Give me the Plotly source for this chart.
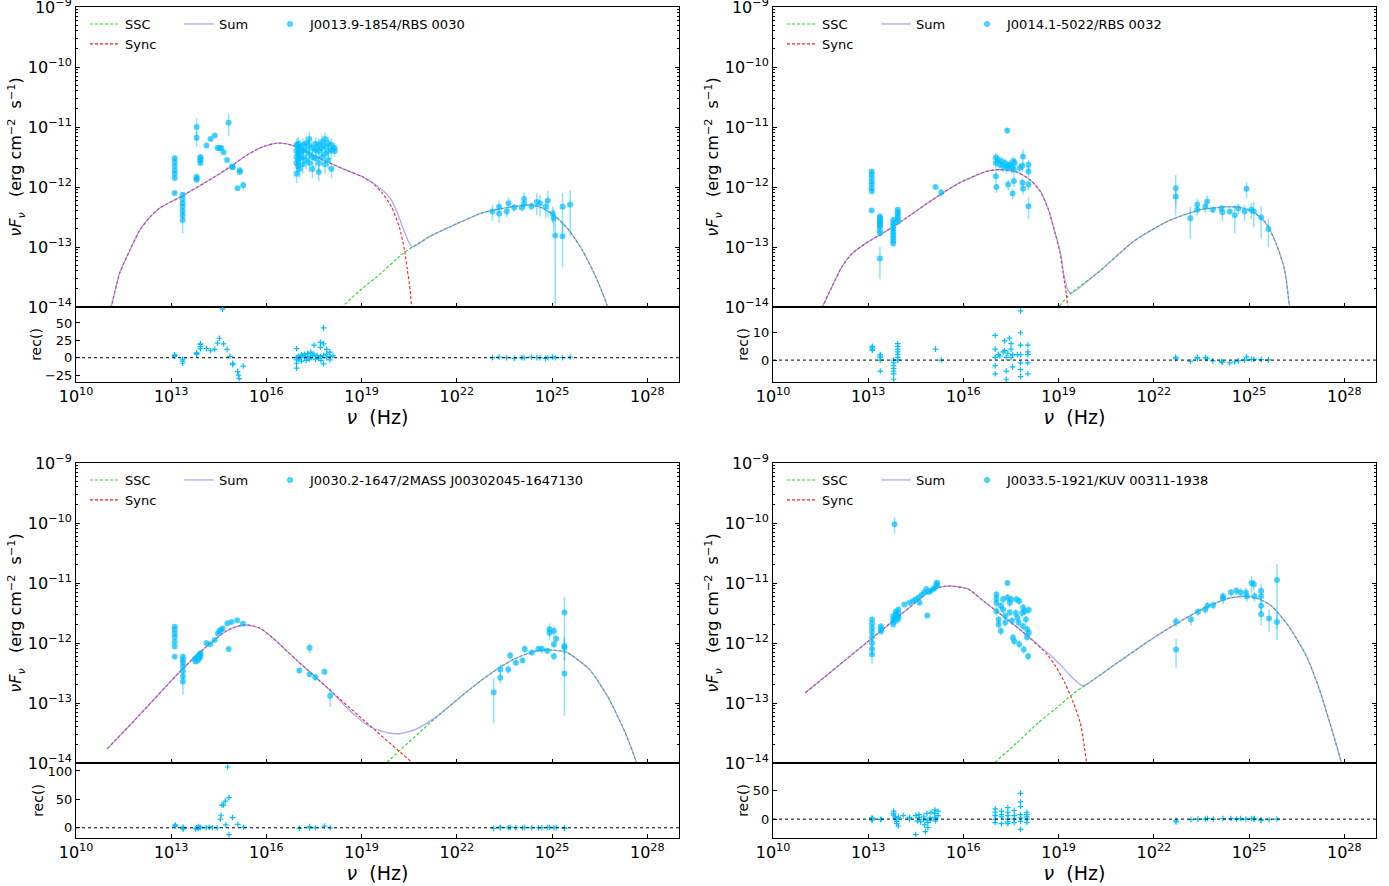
import plotly.graph_objects as go

W, H = 1389, 886
FONT = "DejaVu Sans"

# ------------------------------------------------------------------
# Panel 1 : J0013.9-1854/RBS 0030   (values are log10 nu [Hz], log10 nuFnu, rel. error)
# ------------------------------------------------------------------
p1_name = "J0013.9-1854/RBS 0030"
p1_sync = [[11.05, -14.1], [11.12, -13.97], [11.38, -13.43], [11.70, -13.05], [12.01, -12.72],
           [12.33, -12.50], [12.64, -12.35], [13.27, -12.17], [14.31, -11.85], [14.84, -11.67],
           [15.38, -11.47], [15.88, -11.33], [16.32, -11.27], [16.64, -11.28], [17.04, -11.35],
           [17.45, -11.47], [17.99, -11.60], [18.52, -11.72], [19.03, -11.83], [19.34, -11.93],
           [19.65, -12.10], [19.94, -12.33], [20.19, -12.67], [20.35, -13.05], [20.44, -13.38],
           [20.53, -13.72], [20.57, -13.98], [20.60, -14.2]]
p1_ssc = [[18.33, -14.1], [18.40, -14.0], [19.00, -13.70], [19.47, -13.50], [20.28, -13.12],
          [20.60, -13.0], [21.13, -12.83], [21.76, -12.67], [22.80, -12.43], [23.87, -12.32],
          [24.37, -12.30], [24.69, -12.35], [25.13, -12.50], [25.53, -12.72], [25.95, -13.05],
          [26.38, -13.50], [26.73, -13.97], [26.78, -14.1]]
p1_sum_valley = [[19.65, -12.05], [19.94, -12.22], [20.19, -12.52], [20.35, -12.75],
                 [20.50, -12.93], [20.60, -13.0]]
p1_radio = [[13.11, -11.52, 0.10], [13.11, -11.58, 0.15], [13.11, -11.65, 0.10], [13.11, -11.72, 0.10],
            [13.11, -11.78, 0.15], [13.11, -11.85, 0.10], [13.11, -12.10, 0.05],
            [13.36, -12.13, 0.10], [13.36, -12.20, 0.10], [13.36, -12.27, 0.10], [13.36, -12.33, 0.10],
            [13.36, -12.40, 0.10], [13.36, -12.47, 0.15], [13.36, -12.55, 0.40],
            [13.80, -11.00, 0.40], [13.80, -11.18, 0.30], [13.80, -11.83, 0.05], [13.80, -11.86, 0.05],
            [13.80, -11.88, 0.05], [13.92, -11.50, 0.05], [13.92, -11.53, 0.05], [13.92, -11.56, 0.05],
            [13.92, -11.60, 0.05], [14.11, -11.31, 0.05], [14.24, -11.20, 0.05], [14.37, -11.14, 0.05],
            [14.46, -11.35, 0.05], [14.52, -11.35, 0.05], [14.58, -11.35, 0.05], [14.65, -11.42, 0.05],
            [14.76, -11.55, 0.05], [14.81, -10.93, 0.40], [14.92, -11.66, 0.05], [14.94, -11.67, 0.05],
            [15.09, -12.02, 0.05], [15.16, -11.72, 0.05], [15.16, -11.75, 0.05], [15.27, -11.97, 0.15]]
p1_xray = [[16.95, -11.30, 0.3], [16.95, -11.40, 0.3], [16.95, -11.50, 0.3], [16.95, -11.60, 0.3],
           [16.95, -11.78, 0.3], [17.00, -11.28, 0.3], [17.00, -11.35, 0.3], [17.00, -11.45, 0.3],
           [17.00, -11.55, 0.3], [17.00, -11.65, 0.3], [17.05, -11.33, 0.3], [17.05, -11.42, 0.3],
           [17.05, -11.52, 0.3], [17.05, -11.70, 0.3], [17.15, -11.30, 0.3], [17.15, -11.40, 0.3],
           [17.15, -11.50, 0.3], [17.15, -11.62, 0.3], [17.25, -11.27, 0.3], [17.25, -11.38, 0.3],
           [17.25, -11.55, 0.3], [17.35, -11.20, 0.3], [17.35, -11.30, 0.3], [17.35, -11.45, 0.3],
           [17.35, -11.60, 0.3], [17.45, -11.35, 0.3], [17.45, -11.50, 0.3], [17.45, -11.70, 0.3],
           [17.55, -11.28, 0.3], [17.55, -11.38, 0.3], [17.55, -11.52, 0.3], [17.65, -11.30, 0.3],
           [17.65, -11.40, 0.3], [17.65, -11.60, 0.3], [17.65, -11.75, 0.3], [17.75, -11.25, 0.3],
           [17.75, -11.35, 0.3], [17.75, -11.50, 0.3], [17.85, -11.20, 0.3], [17.85, -11.32, 0.3],
           [17.85, -11.45, 0.3], [17.85, -11.62, 0.3], [17.95, -11.27, 0.3], [17.95, -11.40, 0.3],
           [17.95, -11.55, 0.3], [18.05, -11.30, 0.3], [18.05, -11.38, 0.3], [18.05, -11.70, 0.3],
           [18.15, -11.35, 0.2], [18.15, -11.40, 0.2]]
p1_gamma = [[23.12, -12.41, 0.30], [23.33, -12.33, 0.25], [23.33, -12.44, 0.30], [23.57, -12.41, 0.20],
            [23.63, -12.27, 0.25], [23.81, -12.34, 0.15], [24.05, -12.34, 0.15], [24.12, -12.20, 0.30],
            [24.12, -12.28, 0.20], [24.35, -12.32, 0.15], [24.52, -12.25, 0.40], [24.62, -12.27, 0.40],
            [24.80, -12.33, 0.35], [24.87, -12.23, 0.45], [25.02, -12.44, 0.30], [25.05, -12.52, 0.40],
            [25.10, -12.81, 1.30], [25.33, -12.33, 0.70], [25.33, -12.82, 0.70], [25.57, -12.29, 0.70]]
p1_resid = [[13.11, 3], [13.11, 2], [13.11, 4], [13.36, -2], [13.36, -5], [13.36, -8],
            [13.80, 5], [13.80, 7], [13.80, 6], [13.92, 13], [13.92, 16], [13.92, 19], [13.92, 20],
            [14.11, 13], [14.24, 10], [14.37, 12], [14.46, 21], [14.52, 28], [14.62, 70], [14.65, 20],
            [14.76, 12], [14.85, 2], [14.94, -10], [14.94, -8], [15.09, -20], [15.12, -25], [15.14, -30],
            [15.27, -12],
            [16.95, 13], [16.95, -3], [16.95, -8], [16.95, -15], [16.95, 0], [17.00, 2], [17.00, -2],
            [17.05, 0], [17.10, 4], [17.10, -5], [17.15, 3], [17.20, 5], [17.20, 1], [17.25, -4],
            [17.30, 6], [17.30, 2], [17.35, -2], [17.40, 8], [17.40, 0], [17.45, 3], [17.50, 18],
            [17.50, 5], [17.55, -2], [17.60, 3], [17.65, -1], [17.70, 22], [17.70, 15], [17.70, 2],
            [17.72, -4], [17.80, 43], [17.80, 20], [17.80, 3], [17.80, -9], [17.90, 12], [17.90, 5],
            [17.90, 0], [18.00, 8], [18.00, 2], [18.00, -3], [18.10, 3],
            [23.12, 0], [23.33, 1], [23.57, 0], [23.81, -1], [24.05, 0], [24.12, 0], [24.35, 1],
            [24.52, 0], [24.62, 0], [24.80, -1], [24.87, 0], [25.02, 1], [25.10, 0], [25.33, 0],
            [25.57, 1]]

# ------------------------------------------------------------------
# Panel 2 : J0014.1-5022/RBS 0032
# ------------------------------------------------------------------
p2_name = "J0014.1-5022/RBS 0032"
p2_sync = [[11.50, -14.1], [11.56, -14.0], [11.86, -13.66], [12.17, -13.33], [12.49, -13.11],
           [12.92, -12.94], [13.55, -12.74], [14.19, -12.52], [15.03, -12.21], [15.88, -11.93],
           [16.72, -11.74], [17.15, -11.71], [17.68, -11.75], [18.10, -11.88], [18.42, -12.07],
           [18.68, -12.38], [18.89, -12.77], [19.05, -13.11], [19.16, -13.50], [19.24, -13.78],
           [19.29, -14.0], [19.31, -14.1]]
p2_ssc = [[18.95, -14.05], [19.00, -14.0], [19.39, -13.77], [20.32, -13.39], [21.35, -12.91],
          [22.40, -12.58], [23.45, -12.38], [24.28, -12.33], [24.70, -12.34], [25.12, -12.41],
          [25.54, -12.61], [25.85, -12.94], [26.12, -13.38], [26.27, -13.98], [26.29, -14.1]]
p2_sum_valley = [[19.05, -13.08], [19.16, -13.45], [19.21, -13.57], [19.29, -13.72], [19.39, -13.77]]
p2_radio = [[13.11, -11.74, 0.05], [13.11, -11.79, 0.05], [13.11, -11.85, 0.05], [13.11, -11.91, 0.05],
            [13.11, -11.96, 0.05], [13.11, -12.02, 0.05], [13.11, -12.07, 0.05], [13.11, -12.39, 0.05],
            [13.37, -12.49, 0.10], [13.37, -12.52, 0.10], [13.37, -12.55, 0.10], [13.37, -12.58, 0.10],
            [13.37, -12.60, 0.10], [13.37, -12.63, 0.10], [13.37, -12.66, 0.10], [13.37, -12.72, 0.10],
            [13.37, -12.77, 0.10], [13.37, -13.19, 0.55],
            [13.79, -12.55, 0.10], [13.79, -12.60, 0.10], [13.79, -12.65, 0.10], [13.79, -12.70, 0.10],
            [13.79, -12.75, 0.10], [13.79, -12.80, 0.10], [13.79, -12.85, 0.10], [13.79, -12.90, 0.10],
            [13.79, -12.94, 0.10], [13.93, -12.38, 0.05], [13.93, -12.42, 0.05], [13.93, -12.46, 0.05],
            [13.93, -12.50, 0.05], [13.93, -12.54, 0.05], [13.93, -12.58, 0.05],
            [15.12, -12.00, 0.05], [15.30, -12.09, 0.15]]
p2_xray = [[17.02, -11.51, 0.2], [17.02, -11.60, 0.2], [17.02, -11.82, 0.2], [17.04, -12.00, 0.2],
           [17.08, -11.54, 0.2], [17.15, -11.63, 0.2], [17.20, -11.57, 0.2], [17.25, -11.65, 0.2],
           [17.31, -11.60, 0.2], [17.36, -11.68, 0.2], [17.38, -11.06, 0.1], [17.41, -11.65, 0.2],
           [17.41, -11.96, 0.2], [17.46, -11.63, 0.2], [17.52, -11.68, 0.2], [17.55, -12.11, 0.2],
           [17.57, -11.57, 0.2], [17.59, -11.71, 0.2], [17.62, -11.60, 0.2], [17.59, -11.90, 0.2],
           [17.78, -11.68, 0.2], [17.86, -11.65, 0.2], [17.86, -11.93, 0.2], [17.88, -12.03, 0.2],
           [17.88, -11.49, 0.3], [18.05, -11.63, 0.2], [18.05, -11.74, 0.2], [18.05, -11.96, 0.2],
           [18.05, -12.32, 0.4]]
p2_gamma = [[22.69, -12.02, 0.65], [22.69, -12.16, 0.30], [23.15, -12.52, 0.55], [23.37, -12.29, 0.25],
            [23.37, -12.38, 0.20], [23.62, -12.33, 0.20], [23.68, -12.24, 0.25], [23.86, -12.38, 0.10],
            [24.13, -12.36, 0.10], [24.16, -12.42, 0.30], [24.39, -12.41, 0.10], [24.55, -12.47, 0.50],
            [24.66, -12.36, 0.20], [24.86, -12.41, 0.30], [24.92, -12.03, 0.30], [25.07, -12.38, 0.30],
            [25.15, -12.41, 0.45], [25.38, -12.51, 0.55], [25.61, -12.70, 0.50]]
p2_resid = [[13.13, 3.5], [13.13, 4], [13.13, 4.5], [13.13, 5], [13.38, 0], [13.38, 1], [13.38, 1.5],
            [13.38, 2], [13.38, -4], [13.80, 0], [13.80, -1], [13.80, -2], [13.80, -3], [13.80, -4],
            [13.80, -5], [13.80, -7], [13.93, 0], [13.93, 1], [13.93, 2], [13.93, 3], [13.93, 4],
            [13.93, 5], [13.93, 6], [15.12, 4], [15.30, 0],
            [17.00, 9], [17.00, 4], [17.00, 1], [17.00, -2], [17.00, -5], [17.10, 2], [17.15, 1.5],
            [17.25, 3], [17.30, 7], [17.30, 3.5], [17.35, 1], [17.35, -4], [17.35, -7], [17.40, 2.5],
            [17.45, 8], [17.50, 6], [17.50, 4], [17.50, 1], [17.55, -2.5], [17.55, 2], [17.70, 2],
            [17.80, 18], [17.80, 10], [17.80, 5.5], [17.80, 2], [17.80, -1], [17.80, -3.5],
            [17.80, -6], [18.03, 5.5], [18.03, 3], [18.03, 2], [18.03, -1], [18.03, -5],
            [22.69, 1], [22.69, 0.5], [23.15, -0.5], [23.37, 0.5], [23.37, 1], [23.62, 0.8],
            [23.68, 0.5], [23.86, -0.3], [24.13, -0.5], [24.16, -0.8], [24.39, -1], [24.55, -0.7],
            [24.66, -0.3], [24.86, 0], [24.92, 1.2], [25.07, 0.3], [25.15, 0.3], [25.38, 0.2],
            [25.61, 0.1]]

# ------------------------------------------------------------------
# Panel 3 : J0030.2-1647/2MASS J00302045-1647130
# ------------------------------------------------------------------
p3_name = "J0030.2-1647/2MASS J00302045-1647130"
p3_sync = [[10.99, -13.76], [11.86, -13.28], [13.27, -12.48], [14.11, -12.06], [14.74, -11.80],
           [15.10, -11.72], [15.37, -11.70], [15.79, -11.75], [16.21, -11.92], [16.94, -12.28],
           [17.99, -12.78], [19.03, -13.27], [20.56, -13.98], [20.70, -14.05]]
p3_ssc = [[19.70, -14.05], [19.78, -14.0], [21.33, -13.25], [22.39, -12.78], [23.09, -12.50],
          [23.80, -12.27], [24.50, -12.13], [25.06, -12.12], [25.48, -12.16], [26.18, -12.44],
          [26.75, -12.89], [27.31, -13.50], [27.66, -14.0], [27.70, -14.1]]
p3_sum_valley = [[18.73, -13.18], [19.29, -13.40], [19.85, -13.50], [20.20, -13.51], [20.70, -13.44],
                 [21.33, -13.24]]
p3_radio = [[13.11, -11.73, 0.05], [13.11, -11.78, 0.05], [13.11, -11.84, 0.05], [13.11, -11.90, 0.05],
            [13.11, -11.98, 0.05], [13.11, -12.06, 0.05], [13.11, -12.23, 0.05],
            [13.37, -12.23, 0.10], [13.37, -12.28, 0.10], [13.37, -12.33, 0.10], [13.37, -12.39, 0.10],
            [13.37, -12.47, 0.10], [13.37, -12.56, 0.10], [13.37, -12.64, 0.40],
            [13.74, -12.27, 0.05], [13.77, -12.31, 0.05], [13.80, -12.24, 0.05], [13.83, -12.29, 0.05],
            [13.86, -12.21, 0.05], [13.88, -12.26, 0.05], [13.90, -12.19, 0.05], [13.92, -12.17, 0.05],
            [13.92, -12.23, 0.05], [14.11, -12.00, 0.05], [14.23, -12.02, 0.05], [14.37, -11.95, 0.05],
            [14.47, -11.84, 0.05], [14.52, -11.80, 0.05], [14.57, -11.78, 0.05], [14.62, -11.76, 0.05],
            [14.77, -11.67, 0.05], [14.90, -11.65, 0.05], [15.08, -11.62, 0.05], [15.26, -11.68, 0.05],
            [14.81, -12.10, 0.05]]
p3_xray = [[17.04, -12.46, 0.10], [17.36, -12.08, 0.20], [17.36, -12.52, 0.10], [17.54, -12.57, 0.15],
           [17.83, -12.48, 0.10], [18.01, -12.88, 0.35]]
p3_gamma = [[23.16, -12.82, 0.70], [23.37, -12.44, 0.20], [23.37, -12.58, 0.20], [23.62, -12.44, 0.15],
            [23.68, -12.21, 0.15], [23.86, -12.33, 0.10], [24.07, -12.29, 0.10], [24.14, -12.10, 0.15],
            [24.36, -12.16, 0.10], [24.57, -12.10, 0.10], [24.68, -12.10, 0.15], [24.85, -12.13, 0.10],
            [24.92, -11.77, 0.25], [24.92, -11.83, 0.25], [25.06, -11.80, 0.20], [25.06, -12.22, 0.15],
            [25.13, -11.93, 0.15], [25.06, -12.02, 0.15], [25.39, -11.49, 0.80], [25.39, -12.05, 0.40],
            [25.39, -12.08, 0.40], [25.39, -12.51, 0.80]]
p3_resid = [[13.13, 4], [13.13, 5], [13.13, 3], [13.38, 0], [13.38, -2], [13.38, 1], [13.38, -1],
            [13.77, -2], [13.80, 0], [13.85, 2], [13.85, -1], [13.90, 1], [13.93, 0], [14.10, 0],
            [14.20, 1], [14.30, 0], [14.45, 0], [14.55, 15], [14.57, 22], [14.60, 40], [14.65, 40],
            [14.70, 47], [14.72, 5], [14.78, 107], [14.82, 53], [14.82, -12], [14.93, 18], [15.10, 6],
            [15.28, 1],
            [17.04, -1], [17.36, 2], [17.36, 0], [17.54, 0], [17.83, 3], [18.01, 0],
            [23.16, -1], [23.37, 0], [23.37, 1], [23.62, 0], [23.68, 1], [23.86, 0], [24.07, 0],
            [24.14, 0.5], [24.36, 0], [24.57, 0], [24.68, 0], [24.85, 0.5], [24.92, 1], [25.06, 0],
            [25.13, 0.5], [25.39, 0], [25.39, -1]]

# ------------------------------------------------------------------
# Panel 4 : J0033.5-1921/KUV 00311-1938
# ------------------------------------------------------------------
p4_name = "J0033.5-1921/KUV 00311-1938"
p4_sync = [[11.02, -12.83], [14.48, -11.33], [14.90, -11.15], [15.25, -11.07], [15.59, -11.05],
           [16.14, -11.10], [16.70, -11.33], [17.39, -11.61], [18.08, -11.91], [18.64, -12.19],
           [18.91, -12.39], [19.19, -12.66], [19.47, -13.00], [19.68, -13.33], [19.81, -13.72],
           [19.88, -14.0], [19.90, -14.1]]
p4_ssc = [[16.90, -14.05], [16.98, -14.0], [17.67, -13.67], [18.36, -13.33], [19.05, -13.03],
          [19.47, -12.84], [19.88, -12.69], [20.85, -12.33], [22.00, -11.91], [22.93, -11.61],
          [23.62, -11.41], [24.32, -11.26], [24.87, -11.22], [25.29, -11.26], [25.70, -11.38],
          [26.25, -11.72], [26.81, -12.22], [27.22, -12.78], [27.64, -13.50], [27.91, -14.0],
          [27.95, -14.1]]
p4_sum_valley = [[18.50, -12.10], [18.78, -12.22], [19.05, -12.36], [19.33, -12.52], [19.60, -12.66],
                 [19.75, -12.71], [19.88, -12.69]]
p4_radio = [[13.12, -11.61, 0.10], [13.12, -11.68, 0.10], [13.12, -11.75, 0.15], [13.12, -11.82, 0.15],
            [13.12, -11.90, 0.20], [13.12, -12.00, 0.20], [13.12, -12.10, 0.25], [13.12, -12.19, 0.30],
            [13.40, -11.72, 0.05], [13.40, -11.77, 0.05], [13.40, -11.81, 0.05],
            [13.79, -11.55, 0.05], [13.79, -11.60, 0.05], [13.79, -11.65, 0.05], [13.79, -11.69, 0.05],
            [13.83, -10.02, 0.30], [13.87, -11.48, 0.05], [13.87, -11.52, 0.05], [13.87, -11.58, 0.05],
            [13.87, -11.63, 0.05], [13.95, -11.44, 0.05], [13.95, -11.50, 0.05], [13.95, -11.56, 0.05],
            [13.95, -11.60, 0.05], [14.14, -11.36, 0.05], [14.30, -11.33, 0.05], [14.41, -11.30, 0.05],
            [14.50, -11.27, 0.05], [14.59, -11.24, 0.05], [14.62, -11.33, 0.05], [14.68, -11.20, 0.05],
            [14.76, -11.16, 0.05], [14.83, -11.10, 0.05], [14.86, -11.54, 0.05], [14.90, -11.15, 0.05],
            [14.97, -11.13, 0.05], [15.05, -11.10, 0.05], [15.10, -11.08, 0.05], [15.15, -11.02, 0.05],
            [15.17, -10.99, 0.05], [15.17, -11.05, 0.05]]
p4_xray = [[17.04, -11.19, 0.15], [17.04, -11.26, 0.15], [17.04, -11.33, 0.15], [17.04, -11.47, 0.15],
           [17.11, -11.61, 0.15], [17.11, -11.69, 0.15], [17.18, -11.38, 0.15], [17.18, -11.80, 0.15],
           [17.25, -11.27, 0.15], [17.25, -11.44, 0.15], [17.32, -11.55, 0.15], [17.32, -11.66, 0.15],
           [17.39, -11.00, 0.10], [17.39, -11.24, 0.15], [17.46, -11.33, 0.15], [17.46, -11.49, 0.15],
           [17.50, -11.27, 0.15], [17.53, -11.63, 0.15], [17.56, -11.91, 0.15], [17.60, -11.97, 0.15],
           [17.65, -11.50, 0.15], [17.67, -11.27, 0.15], [17.70, -11.58, 0.15], [17.74, -11.66, 0.15],
           [17.76, -11.30, 0.15], [17.76, -12.02, 0.15], [17.85, -11.50, 0.15], [17.88, -11.41, 0.15],
           [17.88, -11.72, 0.15], [17.90, -12.11, 0.15], [17.94, -11.47, 0.15], [17.97, -11.61, 0.15],
           [18.00, -11.90, 0.15], [18.01, -11.77, 0.15], [18.04, -12.22, 0.15], [18.06, -11.83, 0.15],
           [18.06, -11.45, 0.15]]
p4_gamma = [[22.70, -11.64, 0.20], [22.70, -12.11, 0.50], [23.17, -11.61, 0.20], [23.39, -11.48, 0.15],
            [23.62, -11.44, 0.15], [23.69, -11.38, 0.15], [23.87, -11.37, 0.15], [24.18, -11.22, 0.15],
            [24.18, -11.26, 0.20], [24.43, -11.16, 0.15], [24.60, -11.13, 0.15], [24.73, -11.16, 0.20],
            [24.90, -11.16, 0.20], [24.93, -11.22, 0.20], [25.08, -11.00, 0.30], [25.15, -11.02, 0.20],
            [25.17, -11.22, 0.20], [25.38, -11.13, 0.30], [25.38, -11.22, 0.30], [25.38, -11.38, 0.30],
            [25.38, -11.52, 0.35], [25.63, -11.59, 0.40], [25.88, -10.95, 0.85], [25.88, -11.65, 0.50]]
p4_resid = [[13.12, 0], [13.12, 2], [13.12, -2], [13.12, 1], [13.40, 0], [13.40, -1], [13.80, 14],
            [13.80, 10], [13.80, 7], [13.85, 4], [13.85, 0], [13.90, -4], [13.90, -8], [13.95, -12],
            [13.95, 3], [14.10, 6], [14.30, 3], [14.30, 0], [14.50, -27], [14.50, 6], [14.55, -3],
            [14.60, 8], [14.60, 3], [14.65, -5], [14.75, 0], [14.75, 5], [14.78, -10], [14.80, -22],
            [14.85, 10], [14.85, -2], [14.88, -6], [14.88, -15], [14.95, 2], [14.95, -2], [14.98, 12],
            [15.10, 16], [15.10, 10], [15.10, 3], [15.12, 0], [15.12, -3], [15.20, 14], [15.20, 6],
            [17.00, 18], [17.00, 12], [17.00, 6], [17.00, 0], [17.00, -6], [17.20, 14], [17.20, 8],
            [17.20, 4], [17.20, -8], [17.40, 20], [17.40, 12], [17.40, 6], [17.40, 0], [17.40, -5],
            [17.40, -8], [17.60, 15], [17.60, 6], [17.60, 0], [17.60, -6], [17.80, 45], [17.80, 30],
            [17.80, 22], [17.80, 8], [17.80, 2], [17.80, -4], [17.80, -18], [18.00, 12], [18.00, 8],
            [18.00, 4], [18.00, 0], [18.00, -6],
            [22.70, -2], [22.70, -5], [23.17, -1], [23.39, 0], [23.62, 0], [23.69, 1], [23.87, 0],
            [24.18, 1], [24.43, 1], [24.60, 0], [24.73, 1], [24.90, 0], [25.08, 1], [25.15, 0],
            [25.17, 1], [25.38, -1], [25.38, -2], [25.63, -1], [25.88, 0]]

# residual axis settings per panel
resid_ranges = [[-35, 73], [-8, 19.4], [-18, 114], [-33, 98]]
resid_ticks = [[-25, 0, 25, 50], [0, 10], [0, 50, 100], [0, 50]]
# sum-curve: sync part below lo, valley points, ssc part above hi
valley_limits = [[19.6, 20.65], [19.0, 19.45], [18.5, 21.4], [18.4, 19.9]]

panels = [
    (p1_name, p1_sync, p1_ssc, p1_sum_valley, p1_radio + p1_xray + p1_gamma, p1_resid),
    (p2_name, p2_sync, p2_ssc, p2_sum_valley, p2_radio + p2_xray + p2_gamma, p2_resid),
    (p3_name, p3_sync, p3_ssc, p3_sum_valley, p3_radio + p3_xray + p3_gamma, p3_resid),
    (p4_name, p4_sync, p4_ssc, p4_sum_valley, p4_radio + p4_xray + p4_gamma, p4_resid),
]

# ------------------------------------------------------------------
# geometry (pixels)
# ------------------------------------------------------------------
col_x = [(76, 679), (773, 1376)]
row_y = [(7, 307, 382), (463, 763, 838)]

C_DATA = "rgba(0,191,255,0.70)"
C_ERR = "rgba(0,191,255,0.45)"
C_SSC = "#22dd22"
C_SYNC = "#ff2020"
C_SUM = "rgba(125,110,240,0.60)"


def pv(v):
    return 10.0 ** v


fig = go.Figure()
layout = dict(
    width=W, height=H, margin=dict(l=0, r=0, t=0, b=0, autoexpand=False),
    paper_bgcolor="white", plot_bgcolor="white",
    font=dict(family=FONT, color="black", size=13),
    shapes=[],
)

major_x = [pv(e) for e in range(10, 29, 3)]
major_x_txt = ["10<sup>%d</sup>" % e for e in range(10, 29, 3)]
major_y = [pv(e) for e in range(-14, -8)]
major_y_txt = ["10<sup>\u2212%d</sup>" % (-e) for e in range(-14, -8)]
minor_y = [k * pv(e) for e in range(-14, -9) for k in range(2, 10)]

for p, (name, sync, ssc, valley, obs, resid) in enumerate(panels):
    mi, ri = 2 * p + 1, 2 * p + 2
    cx0, cx1 = col_x[p % 2]
    ry0, ry1, ry2 = row_y[p // 2]
    xdom = [cx0 / W, cx1 / W]
    main_dom = [1 - ry1 / H, 1 - ry0 / H]
    res_dom = [1 - ry2 / H, 1 - ry1 / H]
    lo, hi = valley_limits[p]
    lgA, lgB, lgC = "legend%d" % (3 * p + 1), "legend%d" % (3 * p + 2), "legend%d" % (3 * p + 3)
    if lgA == "legend1":
        lgA = "legend"

    xa, ya = "x%d" % mi, "y%d" % mi
    fig.add_trace(go.Scatter(
        x=[pv(a[0]) for a in ssc], y=[pv(a[1]) for a in ssc], mode="lines", name="SSC",
        line=dict(color=C_SSC, width=1.1, dash="3px,2px", shape="spline", smoothing=0.6),
        xaxis=xa, yaxis=ya, legend=lgA, legendrank=1))
    fig.add_trace(go.Scatter(
        x=[pv(a[0]) for a in sync], y=[pv(a[1]) for a in sync], mode="lines", name="Sync",
        line=dict(color=C_SYNC, width=1.1, dash="3px,2px", shape="spline", smoothing=0.6),
        xaxis=xa, yaxis=ya, legend=lgA, legendrank=2))
    total = [a for a in sync if a[0] < lo] + valley + [a for a in ssc if a[0] > hi]
    fig.add_trace(go.Scatter(
        x=[pv(a[0]) for a in total], y=[pv(a[1]) for a in total], mode="lines", name="Sum",
        line=dict(color=C_SUM, width=1.3, shape="spline", smoothing=0.6),
        xaxis=xa, yaxis=ya, legend=lgB))
    ys = [pv(a[1]) for a in obs]
    fig.add_trace(go.Scatter(
        x=[pv(a[0]) for a in obs], y=ys, mode="markers", name=name,
        marker=dict(color=C_DATA, size=6, line=dict(width=0)),
        error_y=dict(type="data", array=[y * a[2] for y, a in zip(ys, obs)],
                     arrayminus=[y * min(a[2], 0.999) for y, a in zip(ys, obs)],
                     color=C_ERR, thickness=1.5, width=0),
        xaxis=xa, yaxis=ya, legend=lgC))
    fig.add_trace(go.Scatter(
        x=[pv(a[0]) for a in resid], y=[a[1] for a in resid], mode="markers", showlegend=False,
        marker=dict(symbol="cross-thin", size=4, line=dict(color="rgb(0,191,255)", width=1.2)),
        xaxis="x%d" % ri, yaxis="y%d" % ri))

    axcommon = dict(showgrid=False, zeroline=False, showline=True, linecolor="black", linewidth=1,
                    ticks="inside", tickcolor="black", ticklen=4, tickwidth=1, automargin=False,
                    ticklabeloverflow="allow")
    layout["xaxis%d" % mi] = dict(type="log", range=[10, 29], domain=xdom, anchor=ya,
                                  tickmode="array", tickvals=major_x, showticklabels=False,
                                  mirror=True, **axcommon)
    layout["yaxis%d" % mi] = dict(type="log", range=[-14, -9], domain=main_dom, anchor=xa,
                                  tickmode="array", tickvals=major_y, ticktext=major_y_txt,
                                  tickfont=dict(size=16), mirror="allticks",
                                  minor=dict(ticks="inside", ticklen=2, tickcolor="black",
                                             tickmode="array", tickvals=minor_y, showgrid=False),
                                  title=dict(text="<i>\u03bdF<sub>\u03bd</sub></i>   (erg cm<sup>\u22122</sup>  s<sup>\u22121</sup>)",
                                             font=dict(size=16), standoff=0),
                                  **axcommon)
    layout["xaxis%d" % ri] = dict(type="log", range=[10, 29], domain=xdom, anchor="y%d" % ri,
                                  tickmode="array", tickvals=major_x, ticktext=major_x_txt,
                                  tickfont=dict(size=16), mirror=True,
                                  title=dict(text="<i>\u03bd</i>  (Hz)", font=dict(size=19), standoff=1),
                                  **axcommon)
    layout["yaxis%d" % ri] = dict(range=resid_ranges[p], domain=res_dom, anchor="x%d" % ri,
                                  tickmode="array", tickvals=resid_ticks[p],
                                  ticktext=[str(t).replace("-", "\u2212") for t in resid_ticks[p]],
                                  tickfont=dict(size=13), mirror=True,
                                  title=dict(text="rec()", font=dict(size=14), standoff=0),
                                  **axcommon)
    layout["shapes"].append(dict(type="line", xref="x%d domain" % ri, yref="y%d" % ri,
                                 x0=0, x1=1, y0=0, y1=0,
                                 line=dict(color="black", width=1, dash="dot")))

    ltop = 1 - (ry0 + 2) / H
    legcommon = dict(yanchor="top", xanchor="left", bgcolor="rgba(0,0,0,0)",
                     font=dict(size=13, family=FONT), tracegroupgap=0, itemwidth=30)
    layout[lgA] = dict(x=(cx0 + 9) / W, y=ltop, orientation="v", **legcommon)
    layout[lgB] = dict(x=(cx0 + 103) / W, y=ltop, orientation="v", **legcommon)
    layout[lgC] = dict(x=(cx0 + 194) / W, y=ltop, orientation="v", **legcommon)

fig.update_layout(**layout)
fig.write_html("out.html", config={"displayModeBar": False},
               post_script="document.body.style.margin='0px';")
